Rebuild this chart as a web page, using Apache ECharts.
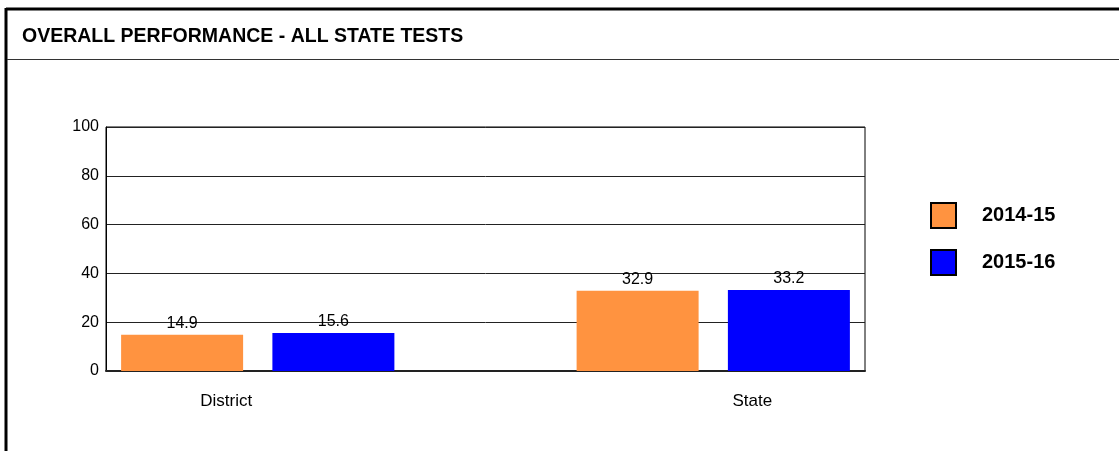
<!DOCTYPE html>
<html>
<head>
<meta charset="utf-8">
<script src="https://cdn.jsdelivr.net/npm/echarts@6/dist/echarts.min.js"></script>
<style>
  html, body { margin: 0; padding: 0; background: #fff; }
  #chart { width: 1119px; height: 451px; }
</style>
</head>
<body>
<div id="chart"></div>
<script>
// chart data
const categories = ['District', 'State'];
const seriesNames = ['2014-15', '2015-16'];
const values2014 = [14.9, 32.9];
const values2015 = [15.6, 33.2];
const yTicks = [0, 20, 40, 60, 80, 100];

const colors = ['#FF9340', '#0000FF'];

let chart = echarts.init(document.getElementById('chart'), null, { renderer: 'canvas' });

const option = {
  animation: false,
  backgroundColor: '#fff',
  title: {
    text: 'OVERALL PERFORMANCE - ALL STATE TESTS',
    left: 17,
    top: 22,
    textStyle: {
      fontFamily: 'Liberation Sans',
      fontWeight: 'bold',
      fontSize: 19.5,
      color: '#000'
    }
  },
  // outer frame and title separator
  graphic: [
    { type: 'line', shape: { x1: 6, y1: 9, x2: 1119, y2: 9 }, style: { stroke: '#000', lineWidth: 3 } },
    { type: 'line', shape: { x1: 6, y1: 8, x2: 6, y2: 451 }, style: { stroke: '#000', lineWidth: 3 } },
    { type: 'line', shape: { x1: 7, y1: 59.5, x2: 1119, y2: 59.5 }, style: { stroke: '#333', lineWidth: 1 } }
  ],
  legend: {
    orient: 'vertical',
    left: 930,
    top: 202,
    padding: 0,
    itemWidth: 25,
    itemHeight: 25,
    itemGap: 20,
    icon: 'rect',
    data: seriesNames,
    itemStyle: { borderColor: '#000', borderWidth: 2 },
    textStyle: {
      fontFamily: 'Liberation Sans',
      fontWeight: 'bold',
      fontSize: 20,
      color: '#000',
      padding: [0, 0, 0, 21]
    }
  },
  grid: [
    // visible frame
    { left: 106, top: 127, width: 759, height: 244, show: true, borderColor: '#000', borderWidth: 1 },
    // bar placement
    { left: 30, top: 127, width: 911, height: 244 }
  ],
  xAxis: [
    {
      gridIndex: 0,
      type: 'category',
      data: categories,
      axisLine: { show: true, lineStyle: { color: '#222', width: 2 } },
      axisTick: { show: false },
      axisLabel: { show: false }
    },
    {
      gridIndex: 1,
      type: 'category',
      data: categories,
      axisLine: { show: false },
      axisTick: { show: false },
      axisLabel: {
        margin: 22,
        color: '#000',
        fontFamily: 'Liberation Sans',
        fontSize: 17,
        formatter: (v, i) => (i === 0 ? '{a|' + v + '}' : '{b|' + v + '}'),
        rich: {
          a: { fontFamily: 'Liberation Sans', fontSize: 17, color: '#000', padding: [0, 63, 0, 0] },
          b: { fontFamily: 'Liberation Sans', fontSize: 17, color: '#000', padding: [0, 0, 0, 78] }
        }
      }
    }
  ],
  yAxis: [
    {
      gridIndex: 0,
      type: 'value',
      min: 0,
      max: 100,
      interval: 20,
      axisLine: { show: true, lineStyle: { color: '#000', width: 1 } },
      axisTick: { show: false },
      axisLabel: {
        margin: 7,
        color: '#000',
        fontFamily: 'Liberation Sans',
        fontSize: 16,
        formatter: v => (yTicks.includes(v) ? String(v) : '')
      },
      splitLine: { show: true, lineStyle: { color: '#222', width: 1 } }
    },
    {
      gridIndex: 1,
      type: 'value',
      min: 0,
      max: 100,
      show: false
    }
  ],
  series: [
    {
      name: seriesNames[0],
      type: 'bar',
      xAxisIndex: 1,
      yAxisIndex: 1,
      data: values2014,
      barWidth: 122,
      barGap: '24%',
      itemStyle: { color: colors[0] },
      label: {
        show: true,
        position: 'top',
        distance: 3,
        color: '#000',
        fontFamily: 'Liberation Sans',
        fontSize: 16
      }
    },
    {
      name: seriesNames[1],
      type: 'bar',
      xAxisIndex: 1,
      yAxisIndex: 1,
      data: values2015,
      barWidth: 122,
      barGap: '24%',
      itemStyle: { color: colors[1] },
      label: {
        show: true,
        position: 'top',
        distance: 3,
        color: '#000',
        fontFamily: 'Liberation Sans',
        fontSize: 16
      }
    }
  ]
};

chart.setOption(option);
</script>
</body>
</html>
